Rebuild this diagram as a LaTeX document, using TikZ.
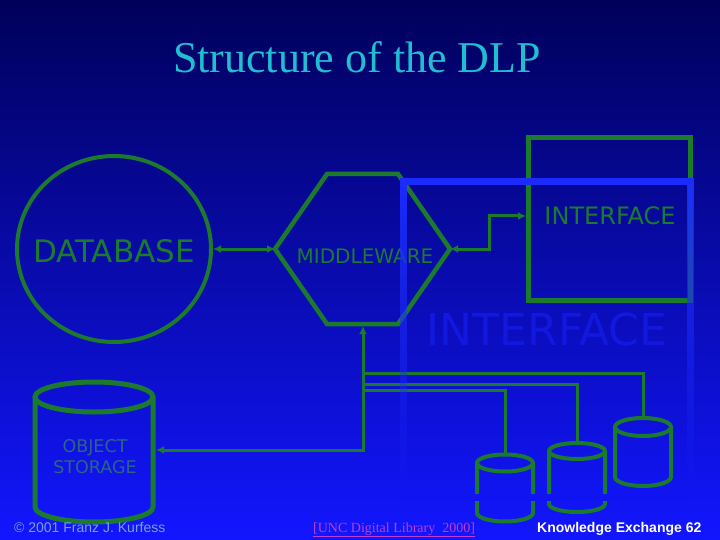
\documentclass[tikz,border=0pt]{standalone}
\usepackage{fontspec}
\setmainfont{Liberation Serif}
\newfontfamily\dvs{DejaVu Sans}
\newfontfamily\lsans{Liberation Sans}
\usetikzlibrary{arrows.meta,shapes.geometric,fadings}
\definecolor{bgtop}{RGB}{0,0,90}
\definecolor{bgbot}{RGB}{18,22,255}
\definecolor{dgreen}{RGB}{28,122,45}
\definecolor{titlecyan}{RGB}{32,190,210}
\definecolor{overblue}{RGB}{28,44,255}
\definecolor{gapblue}{RGB}{16,20,242}
\definecolor{ghostblue}{RGB}{18,24,222}
\definecolor{ostext}{RGB}{45,100,130}
\definecolor{copyc}{RGB}{120,160,220}
\definecolor{linkc}{RGB}{190,60,210}
\tikzfading[name=fadedown, top color=transparent!0, bottom color=transparent!100]
% name, cx, top centre y, bottom centre y, rx, ry
\newcommand{\dlpcyl}[6]{%
  \draw (#2,#3) ellipse [x radius=#5pt, y radius=#6pt];
  \draw (#2-#5,#3) -- (#2-#5,#4) arc[start angle=180,end angle=360,x radius=#5pt,y radius=#6pt] -- (#2+#5,#3);
  \coordinate (#1) at (#2,#3-#6);
}
\begin{document}
\begin{tikzpicture}[x=1pt,y=-1pt,
  arr/.style={dgreen,line width=3pt,{Latex[length=8pt,width=8pt]}-{Latex[length=8pt,width=8pt]}},
  lbl/.style={text=dgreen,inner sep=0pt,anchor=base},
  bus/.style={dgreen,line width=3pt},
]
\useasboundingbox (0,0) rectangle (720,540);
\shade[top color=bgtop,bottom color=bgbot] (0,0) rectangle (720,540);

% title
\node[font=\fontsize{44}{50}\selectfont,text=titlecyan,anchor=base,inner sep=0pt] (title) at (357,73) {Structure of the DLP};

% database
\node[draw=dgreen,line width=4pt,ellipse,minimum width=194pt,minimum height=186pt,inner sep=0pt] (db) at (114,249) {};
\node[lbl,font=\dvs\fontsize{31}{36}\selectfont] (dbl) at (114,262) {DATABASE};

% middleware hexagon
\coordinate (mwL) at (275,249);
\coordinate (mwTL) at (327,174);
\coordinate (mwTR) at (398,174);
\coordinate (mwR) at (450,249);
\coordinate (mwBR) at (398,324);
\coordinate (mwBL) at (327,324);
\draw[dgreen,line width=4.5pt,line join=miter] (mwL)--(mwTL)--(mwTR)--(mwR)--(mwBR)--(mwBL)--cycle;
\node[lbl,font=\dvs\fontsize{20}{24}\selectfont] (mw) at (365,263) {MIDDLEWARE};

% interface box
\node[draw=dgreen,line width=5pt,minimum width=162pt,minimum height=162pt,inner sep=0pt] (iface) at (609,219) {};
\node[lbl,font=\dvs\fontsize{24}{28}\selectfont] (ifl) at (610,225) {INTERFACE};

% object storage
\begin{scope}[dgreen,line width=5pt]
  \dlpcyl{osTop}{94}{397}{507}{59}{15}
\end{scope}
\node[text=ostext,font=\dvs\fontsize{17.5}{21}\selectfont,align=center,inner sep=0pt] (os) at (95,457) {OBJECT\\STORAGE};
\coordinate (osR) at (156,450);

% small storages
\begin{scope}[dgreen,line width=4pt]
  \dlpcyl{c1}{505}{463}{513}{28}{8.5}
  \dlpcyl{c2}{577}{451}{504}{28}{8}
  \dlpcyl{c3}{643}{427}{477}{28}{9}
\end{scope}

% connectors
\draw[arr] (db.east) -- (mwL);
\coordinate (ifin) at (526,216);
\coordinate (mwB) at (363,326);
\draw[arr] (mwR) -- (489,249) |- (ifin);
\draw[arr] (mwB) |- (osR);
\coordinate (b1) at (363,373);
\coordinate (b2) at (363,384);
\coordinate (b3) at (363,390);
\draw[bus] (b1) -| (c3);
\draw[bus] (b2) -| (c2);
\draw[bus] (b3) -| (c1);

% overlay rectangle (fading towards the bottom)
\draw[gapblue,line width=7pt] (403,497) -- (690,497);
\draw[overblue,line width=7pt,line cap=rect,path fading=fadedown] (403,497) -- (403,181) -- (690,181) -- (690,497);
\node[lbl,text=ghostblue,font=\dvs\fontsize{44}{50}\selectfont] (ghost) at (547,345) {INTERFACE};

% footers
\node[anchor=base west,inner sep=0pt,text=copyc,font=\lsans\fontsize{14}{16}\selectfont] (copy) at (14,532) {\textcopyright{} 2001 Franz J. Kurfess};
\node[anchor=base west,inner sep=0pt,text=linkc,font=\fontsize{14}{16}\selectfont] (unc) at (313,532) {\underline{[UNC Digital Library\ \ 2000]}};
\node[anchor=base west,inner sep=0pt,text=white,font=\lsans\bfseries\fontsize{14}{16}\selectfont] (ke) at (537,532) {Knowledge Exchange 62};
\end{tikzpicture}
\end{document}
